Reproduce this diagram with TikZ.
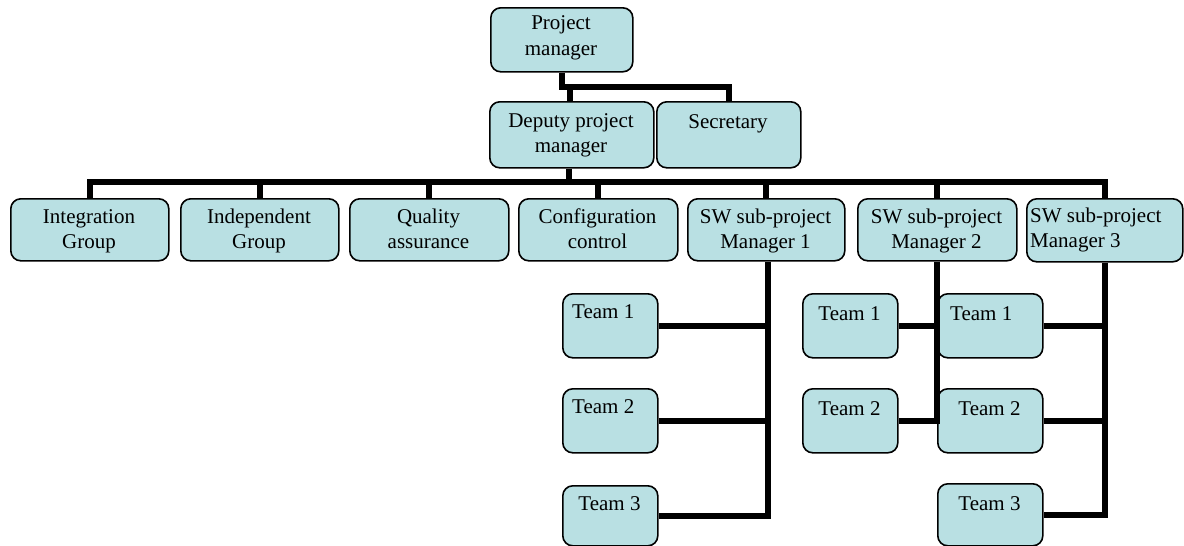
\documentclass[tikz,border=0pt]{standalone}
\usepackage{fontspec}
\setmainfont{Liberation Serif}
\definecolor{boxblue}{RGB}{185,224,227}
\begin{document}
\begin{tikzpicture}[x=1pt,y=-1pt,
  box/.style={draw=black, line width=1.6pt, rounded corners=10pt, fill=boxblue, inner sep=0pt, anchor=north west},
  lbl/.style={font=\fontsize{21}{25}\selectfont, align=center, inner sep=0pt, anchor=base},
  lbll/.style={font=\fontsize{21}{25}\selectfont, align=left, inner sep=0pt, anchor=base west},
  conn/.style={draw=black, line width=6pt, line join=miter}]
\useasboundingbox (0,0) rectangle (1184,546);
% boxes
\node[box, minimum width=142pt, minimum height=64pt] (pm) at (490,7) {};
\node[box, minimum width=164pt, minimum height=66pt] (dpm) at (489,101) {};
\node[box, minimum width=144pt, minimum height=66pt] (sec) at (656,101) {};
\node[box, minimum width=158pt, minimum height=62pt] (ig) at (10,198) {};
\node[box, minimum width=158pt, minimum height=62pt] (indep) at (180,198) {};
\node[box, minimum width=159pt, minimum height=62pt] (qa) at (349,198) {};
\node[box, minimum width=159pt, minimum height=62pt] (cc) at (518,198) {};
\node[box, minimum width=157pt, minimum height=62pt] (sw1) at (687,198) {};
\node[box, minimum width=159pt, minimum height=62pt] (sw2) at (857,198) {};
\node[box, minimum width=156pt, minimum height=63pt] (sw3) at (1026,198) {};
\node[box, minimum width=95pt, minimum height=64pt] (t11) at (562,293) {};
\node[box, minimum width=95pt, minimum height=64pt] (t12) at (562,388) {};
\node[box, minimum width=95pt, minimum height=60pt] (t13) at (562,485) {};
\node[box, minimum width=95pt, minimum height=64pt] (t21) at (802,293) {};
\node[box, minimum width=95pt, minimum height=64pt] (t22) at (802,388) {};
\node[box, minimum width=105pt, minimum height=64pt] (t31) at (937,293) {};
\node[box, minimum width=105pt, minimum height=64pt] (t32) at (937,388) {};
\node[box, minimum width=105pt, minimum height=62pt] (t33) at (937,483) {};
% texts (two-line texts anchored at the baseline of their last line)
\node[lbl] (pmt) at (561,55) {Project\\manager};
\node[lbl] (dpmt) at (571,152) {Deputy project\\manager};
\node[lbl] (sect) at (728,128) {Secretary};
\node[lbl] (igt) at (89,248) {Integration\\Group};
\node[lbl] (indt) at (259,248) {Independent\\Group};
\node[lbl] (qat) at (428.5,248) {Quality\\assurance};
\node[lbl] (cct) at (597.5,248) {Configuration\\control};
\node[lbl] (sw1t) at (765.5,248) {SW sub-project\\Manager 1};
\node[lbl] (sw2t) at (936.5,248) {SW sub-project\\Manager 2};
\node[lbll] (sw3t) at (1030,247) {SW sub-project\\Manager 3};
\node[lbll] (t11t) at (572,318) {Team 1};
\node[lbll] (t12t) at (572,413) {Team 2};
\node[lbl] (t13t) at (609.5,510) {Team 3};
\node[lbl] (t21t) at (849.5,320) {Team 1};
\node[lbl] (t22t) at (849.5,415) {Team 2};
\node[lbll] (t31t) at (950,320) {Team 1};
\node[lbl] (t32t) at (989.5,415) {Team 2};
\node[lbl] (t33t) at (989.5,510) {Team 3};
% connectors
\coordinate (j) at (0,87);
\coordinate (bar) at (0,182);
\draw[conn] (pm.south) -- (pm.south |- j) -| (sec.north);
\draw[conn] ([xshift=-2pt]dpm.north) -- ([xshift=-2pt]dpm.north |- j);
\draw[conn] ([xshift=-3pt]dpm.south) -- ([xshift=-3pt]dpm.south |- bar);
\draw[conn] (ig.north) -- (ig.north |- bar) -- (sw3.north |- bar) -- (sw3.north);
\foreach \n in {indep,qa,cc,sw1,sw2}{\draw[conn] (\n.north) -- (\n.north |- bar);}
\draw[conn] ([xshift=2pt]sw1.south) -- ([xshift=2pt]sw1.south |- t13.east) -- (t13.east);
\draw[conn] (t11.east) -- ([xshift=2pt]t11.east -| sw1.south);
\draw[conn] (t12.east) -- ([xshift=2pt]t12.east -| sw1.south);
\draw[conn] (sw2.south) -- (sw2.south |- t22.east) -- (t22.east);
\draw[conn] (t21.east) -- (t21.east -| sw2.south);
\draw[conn] (sw3.south) -- (sw3.south |- t33.east) -- (t33.east);
\draw[conn] (t31.east) -- (t31.east -| sw3.south);
\draw[conn] (t32.east) -- (t32.east -| sw3.south);
\end{tikzpicture}
\end{document}
